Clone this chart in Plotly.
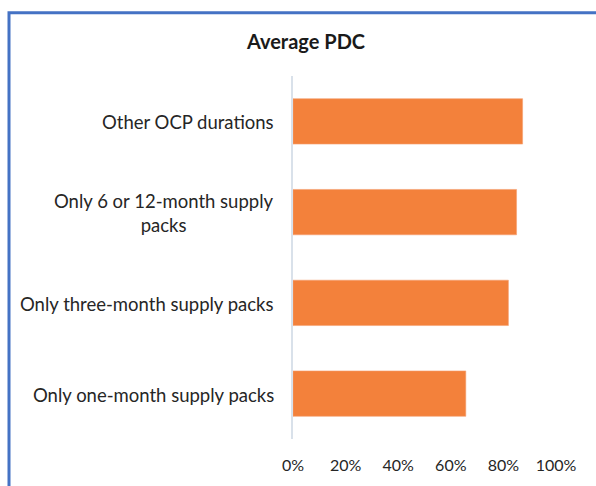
import plotly.graph_objects as go

categories = ["Only one-month supply packs", "Only three-month supply packs",
              "Only 6 or 12-month supply<br>packs", "Other OCP durations"]
values = [0.657, 0.819, 0.850, 0.873]
tick_vals = [0, 0.2, 0.4, 0.6, 0.8, 1.0]
tick_text = ["0%", "20%", "40%", "60%", "80%", "100%"]

W, H = 596, 486
L, R, T, B = 293, 40, 76, 43
pw, ph = W - L - R, H - T - B

def px_x(p):
    return (p - L) / pw

def px_y(p):
    return (H - B - p) / ph

fig = go.Figure(go.Bar(
    y=categories, x=values, orientation="h",
    marker=dict(color="#F3813B", line=dict(color="#F5A070", width=0.6)),
    width=0.5,
))

annotations = [dict(x=0, y=c, xref="x", yref="y", text=c, showarrow=False,
                    xanchor="right", align="center", xshift=-17, yshift=-1,
                    font=dict(family="Lato", size=18.5, color="#262626"))
               for c in categories]

fig.update_layout(
    width=W, height=H,
    margin=dict(l=L, r=R, t=T, b=B),
    paper_bgcolor="white", plot_bgcolor="white",
    showlegend=False,
    title=dict(text="<b>Average PDC</b>", x=306 / W, xref="container", xanchor="center",
               y=1 - 42 / H, yref="container", yanchor="middle",
               font=dict(family="Lato", size=20, color="#1a1a1a")),
    xaxis=dict(range=[0, 1.0], tickvals=tick_vals, ticktext=tick_text,
               showgrid=False, zeroline=False, showline=False,
               ticks="outside", ticklen=12, tickcolor="rgba(0,0,0,0)",
               tickfont=dict(family="Lato", size=16, color="#262626")),
    yaxis=dict(categoryorder="array", categoryarray=categories,
               showticklabels=False, showgrid=False, zeroline=False,
               showline=True, linecolor="#D9E1EA", linewidth=2,
               range=[-0.5, 3.5]),
    annotations=annotations,
    shapes=[dict(type="rect", xref="paper", yref="paper",
                 x0=px_x(9), x1=px_x(640), y0=px_y(540), y1=px_y(12),
                 line=dict(color="#4472C4", width=3))],
)

fig.write_html("out.html", config={"displayModeBar": False},
               post_script="document.body.style.margin='0';document.body.style.overflow='hidden';")
